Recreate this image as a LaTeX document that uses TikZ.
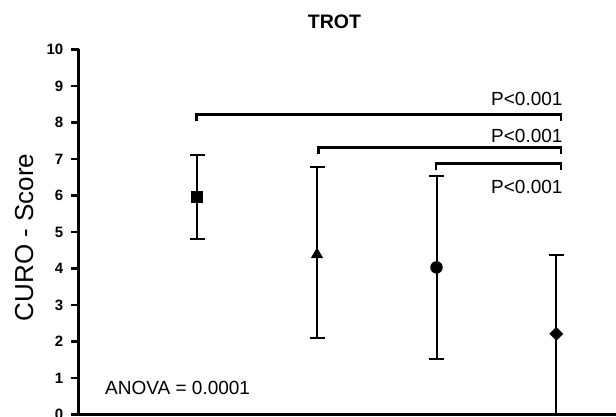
\documentclass[tikz,border=0pt]{standalone}
\usepackage{fontspec}
\setmainfont{Liberation Sans}
\usetikzlibrary{shapes.geometric}

\begin{document}
\begin{tikzpicture}[x=1pt, y=1pt,
  ticklab/.style={font=\fontsize{15}{17}\selectfont\bfseries, anchor=east, inner sep=0pt},
  plab/.style={font=\fontsize{19}{22}\selectfont, anchor=base east, inner sep=0pt},
  errbar/.style={line width=2pt},
  bracket/.style={line width=2.8pt},
  marker/.style={fill=black, draw=none, inner sep=0pt}]

  % ---- Canvas ----
  \useasboundingbox (0,0) rectangle (616,416);

  % ---- Title and axis label ----
  \node[font=\fontsize{19.5}{22}\selectfont\bfseries, anchor=base, inner sep=0pt]
    (title) at (334.5,387) {TROT};
  \node[font=\fontsize{26}{30}\selectfont, rotate=90, anchor=base, inner sep=0pt]
    (ylab) at (33,178.5) {CURO - Score};

  \begin{scope}[shift={(78.5,1.5)}, y=36.5pt]

    % ---- Axes ----
    \draw[line width=3pt] (0,10) -- (0,0) -- (545,0);
    \foreach \v in {0,...,10}{
      \draw[line width=2.4pt] (-7.5,\v) -- (0,\v);
      \node[ticklab] (tick\v) at (-15,\v) {\v};
    }

    % ---- Error bars ----
    \foreach \g/\gx/\lo/\hi in {sq/118.5/4.82/7.10, tri/238.5/2.10/6.79,
                                dot/358/1.53/6.53, dia/477.8/0/4.38}{
      \coordinate (\g-lo) at (\gx,\lo);
      \coordinate (\g-hi) at (\gx,\hi);
      \draw[errbar] (\g-lo) -- (\g-hi);
      \draw[errbar] ([xshift=-7.5pt]\g-lo) -- ([xshift=7.5pt]\g-lo);
      \draw[errbar] ([xshift=-7.5pt]\g-hi) -- ([xshift=7.5pt]\g-hi);
    }

    % ---- Means ----
    \node[marker, rectangle, minimum size=12pt] (sq) at (118.5,5.96) {};
    \node[marker, regular polygon, regular polygon sides=3, minimum size=14.4pt]
      (tri) at (238.5,4.38) {};
    \node[marker, circle, minimum size=12.5pt] (dot) at (358,4.03) {};
    \node[marker, diamond, minimum width=14pt, minimum height=14pt] (dia) at (477.8,2.21) {};

    % ---- Comparison brackets ----
    \foreach \b/\bx/\by in {a/118.2/8.22, b/239.8/7.32, c/357.5/6.88}{
      \coordinate (\b-l) at (\bx,\by);
      \coordinate (\b-r) at (482.5,\by);
      \draw[bracket] ([yshift=-7pt]\b-l) -- (\b-l) -- (\b-r) -- ([yshift=-7pt]\b-r);
    }
    \node[plab] (pa) at (484.2,8.47) {P<0.001};
    \node[plab] (pb) at (484.2,7.45) {P<0.001};
    \node[plab] (pc) at (484.2,6.05) {P<0.001};

    % ---- ANOVA ----
    \node[font=\fontsize{19}{22}\selectfont, anchor=base west, inner sep=0pt]
      (anova) at (26.5,0.55) {ANOVA = 0.0001};

  \end{scope}
\end{tikzpicture}
\end{document}
